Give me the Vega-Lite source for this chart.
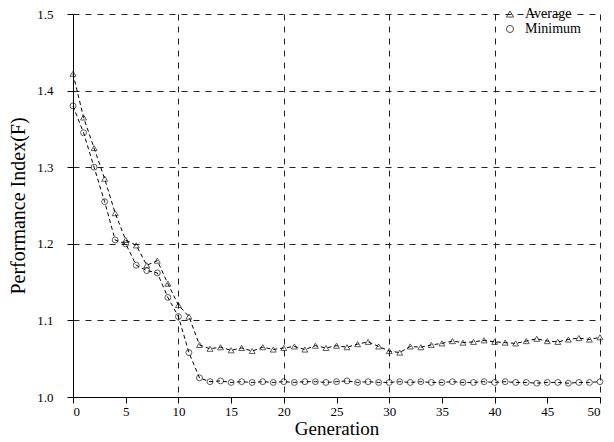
{
  "$schema": "https://vega.github.io/schema/vega-lite/v6.json",
  "width": 527,
  "height": 383,
  "autosize": {"type": "none"},
  "padding": {"left": 73, "top": 14, "right": 14, "bottom": 45},
  "background": "white",
  "config": {
    "view": {"stroke": null},
    "font": "Liberation Serif",
    "axis": {"domainColor": "black", "tickColor": "black", "labelColor": "black", "titleColor": "black", "labelFont": "Liberation Serif", "titleFont": "Liberation Serif", "labelFontSize": 13, "titleFontSize": 19, "titleFontWeight": "normal", "gridColor": "#222", "gridDash": [6, 6], "gridWidth": 1},
    "legend": {"orient": "none", "legendX": 430, "legendY": -7, "padding": 0, "labelFont": "Liberation Serif", "labelFontSize": 14, "labelColor": "black", "symbolStrokeColor": "black", "symbolSize": 50, "symbolStrokeWidth": 1, "rowPadding": 1, "labelOffset": 8}
  },
  "data": {
    "values": [
      {"g":0,"s":"Average","v":1.422},{"g":1,"s":"Average","v":1.365},{"g":2,"s":"Average","v":1.325},{"g":3,"s":"Average","v":1.285},{"g":4,"s":"Average","v":1.24},{"g":5,"s":"Average","v":1.205},{"g":6,"s":"Average","v":1.198},{"g":7,"s":"Average","v":1.172},{"g":8,"s":"Average","v":1.178},{"g":9,"s":"Average","v":1.148},{"g":10,"s":"Average","v":1.12},{"g":11,"s":"Average","v":1.105},{"g":12,"s":"Average","v":1.068},
      {"g":13,"s":"Average","v":1.063},{"g":14,"s":"Average","v":1.065},{"g":15,"s":"Average","v":1.061},{"g":16,"s":"Average","v":1.064},{"g":17,"s":"Average","v":1.060},{"g":18,"s":"Average","v":1.065},{"g":19,"s":"Average","v":1.062},{"g":20,"s":"Average","v":1.064},{"g":21,"s":"Average","v":1.066},{"g":22,"s":"Average","v":1.062},{"g":23,"s":"Average","v":1.067},{"g":24,"s":"Average","v":1.064},{"g":25,"s":"Average","v":1.067},{"g":26,"s":"Average","v":1.065},{"g":27,"s":"Average","v":1.069},{"g":28,"s":"Average","v":1.072},{"g":29,"s":"Average","v":1.066},{"g":30,"s":"Average","v":1.060},{"g":31,"s":"Average","v":1.058},{"g":32,"s":"Average","v":1.066},{"g":33,"s":"Average","v":1.065},{"g":34,"s":"Average","v":1.068},{"g":35,"s":"Average","v":1.070},{"g":36,"s":"Average","v":1.073},{"g":37,"s":"Average","v":1.071},{"g":38,"s":"Average","v":1.072},{"g":39,"s":"Average","v":1.074},{"g":40,"s":"Average","v":1.072},{"g":41,"s":"Average","v":1.071},{"g":42,"s":"Average","v":1.070},{"g":43,"s":"Average","v":1.073},{"g":44,"s":"Average","v":1.076},{"g":45,"s":"Average","v":1.073},{"g":46,"s":"Average","v":1.072},{"g":47,"s":"Average","v":1.075},{"g":48,"s":"Average","v":1.077},{"g":49,"s":"Average","v":1.075},{"g":50,"s":"Average","v":1.078},
      {"g":0,"s":"Minimum","v":1.38},{"g":1,"s":"Minimum","v":1.345},{"g":2,"s":"Minimum","v":1.30},{"g":3,"s":"Minimum","v":1.255},{"g":4,"s":"Minimum","v":1.205},{"g":5,"s":"Minimum","v":1.20},{"g":6,"s":"Minimum","v":1.172},{"g":7,"s":"Minimum","v":1.165},{"g":8,"s":"Minimum","v":1.162},{"g":9,"s":"Minimum","v":1.13},{"g":10,"s":"Minimum","v":1.105},{"g":11,"s":"Minimum","v":1.058},{"g":12,"s":"Minimum","v":1.025},
      {"g":13,"s":"Minimum","v":1.020},{"g":14,"s":"Minimum","v":1.021},{"g":15,"s":"Minimum","v":1.019},{"g":16,"s":"Minimum","v":1.020},{"g":17,"s":"Minimum","v":1.019},{"g":18,"s":"Minimum","v":1.020},{"g":19,"s":"Minimum","v":1.019},{"g":20,"s":"Minimum","v":1.020},{"g":21,"s":"Minimum","v":1.019},{"g":22,"s":"Minimum","v":1.020},{"g":23,"s":"Minimum","v":1.020},{"g":24,"s":"Minimum","v":1.019},{"g":25,"s":"Minimum","v":1.020},{"g":26,"s":"Minimum","v":1.021},{"g":27,"s":"Minimum","v":1.019},{"g":28,"s":"Minimum","v":1.020},{"g":29,"s":"Minimum","v":1.019},{"g":30,"s":"Minimum","v":1.019},{"g":31,"s":"Minimum","v":1.020},{"g":32,"s":"Minimum","v":1.019},{"g":33,"s":"Minimum","v":1.020},{"g":34,"s":"Minimum","v":1.019},{"g":35,"s":"Minimum","v":1.019},{"g":36,"s":"Minimum","v":1.020},{"g":37,"s":"Minimum","v":1.019},{"g":38,"s":"Minimum","v":1.019},{"g":39,"s":"Minimum","v":1.020},{"g":40,"s":"Minimum","v":1.019},{"g":41,"s":"Minimum","v":1.020},{"g":42,"s":"Minimum","v":1.019},{"g":43,"s":"Minimum","v":1.019},{"g":44,"s":"Minimum","v":1.018},{"g":45,"s":"Minimum","v":1.019},{"g":46,"s":"Minimum","v":1.019},{"g":47,"s":"Minimum","v":1.018},{"g":48,"s":"Minimum","v":1.019},{"g":49,"s":"Minimum","v":1.019},{"g":50,"s":"Minimum","v":1.020}
    ]
  },
  "encoding": {
    "x": {
      "field": "g", "type": "quantitative",
      "scale": {"domain": [0, 50], "nice": false, "zero": false},
      "axis": {
        "title": "Generation", "values": [0,5,10,15,20,25,30,35,40,45,50], "format": "d",
        "grid": true,
        "gridOpacity": {"condition": {"test": "datum.value % 10 === 0 && datum.value > 0", "value": 1}, "value": 0},
        "tickSize": 6, "labelPadding": 2, "titlePadding": 1
      }
    },
    "y": {
      "field": "v", "type": "quantitative",
      "scale": {"domain": [1.0, 1.5], "nice": false, "zero": false},
      "axis": {
        "title": "Performance Index(F)", "values": [1.0,1.1,1.2,1.3,1.4,1.5], "format": ".1f",
        "grid": true,
        "gridOpacity": {"condition": {"test": "datum.value > 1.05", "value": 1}, "value": 0},
        "tickSize": 6, "labelPadding": 14, "titlePadding": 8, "titleFontSize": 20
      }
    },
    "shape": {
      "field": "s", "type": "nominal", "title": null,
      "scale": {"domain": ["Average","Minimum"], "range": ["triangle-up","circle"]}
    }
  },
  "layer": [
    {
      "mark": {"type": "line", "color": "black", "strokeWidth": 1, "strokeDash": [4, 3]},
      "encoding": {
        "detail": {"field": "s"},
        "shape": null
      }
    },
    {
      "mark": {"type": "point", "filled": false, "color": "black", "size": 35, "strokeWidth": 0.9}
    }
  ]
}
